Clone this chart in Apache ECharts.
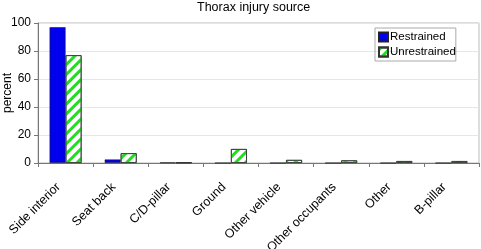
<!DOCTYPE html>
<html>
<head>
<meta charset="utf-8">
<script src="https://cdn.jsdelivr.net/npm/echarts@6/dist/echarts.min.js"></script>
<style>
  html, body { margin: 0; padding: 0; background: #fff; }
  #chart { width: 481px; height: 249px; }
</style>
</head>
<body>
<div id="chart"></div>
<script>
// data
const categories = ['Side interior', 'Seat back', 'C/D-pillar', 'Ground', 'Other vehicle', 'Other occupants', 'Other', 'B-pillar'];
const restrained = [97, 2.5, 0.4, 0, 0, 0, 0, 0];
const unrestrained = [77, 7, 0.4, 10, 2.2, 1.9, 1.4, 1.4];
const yTicks = [0, 20, 40, 60, 80, 100];

const chart = echarts.init(document.getElementById('chart'), null, { renderer: 'canvas' });

const font = 'Liberation Sans, Arial, sans-serif';

chart.setOption({
    animation: false,
    textStyle: { fontFamily: font },
    title: {
        text: 'Thorax injury source',
        left: 192,
        top: -4,
        textStyle: { fontSize: 12.5, fontWeight: 'normal', color: '#000', fontFamily: font }
    },
    legend: {
        orient: 'vertical',
        left: 375,
        top: 28,
        padding: [3, 0, 3, 3],
        itemGap: 3,
        itemWidth: 9,
        itemHeight: 9,
        icon: 'rect',
        borderColor: '#aaa',
        borderWidth: 1,
        textStyle: { fontSize: 11.5, color: '#000', padding: [0, 0, 0, -3] },
        data: ['Restrained', 'Unrestrained']
    },
    grid: {
        left: 38,
        right: 2,
        top: 23,
        bottom: 86,
        outerBoundsMode: 'none',
        containLabel: false,
        show: true,
        borderColor: '#bbb',
        borderWidth: 1
    },
    xAxis: {
        type: 'category',
        data: categories,
        axisLine: { lineStyle: { color: '#777' } },
        axisTick: { show: true, length: 4, lineStyle: { color: '#777' } },
        axisLabel: { rotate: 45, fontSize: 12.5, color: '#000', margin: 15, padding: [0, 10, 0, 0], interval: 0 }
    },
    yAxis: {
        type: 'value',
        min: yTicks[0],
        max: yTicks[yTicks.length - 1],
        interval: 20,
        name: 'percent',
        nameLocation: 'middle',
        nameGap: 24,
        nameMoveOverlap: false,
        nameTextStyle: { fontSize: 12, color: '#000' },
        axisLine: { show: true, lineStyle: { color: '#777' } },
        axisTick: { show: true, length: 4, lineStyle: { color: '#777' } },
        axisLabel: { fontSize: 12, color: '#000', margin: 7 },
        splitLine: { lineStyle: { color: '#e6e6e6' } }
    },
    series: [
        {
            name: 'Restrained',
            type: 'bar',
            data: restrained,
            barGap: '0%',
            barCategoryGap: '42%',
            itemStyle: { color: '#0000ee', borderColor: '#222', borderWidth: 0.6 }
        },
        {
            name: 'Unrestrained',
            type: 'bar',
            data: unrestrained,
            itemStyle: {
                color: '#ffffff',
                borderColor: '#333',
                borderWidth: 0.8,
                decal: {
                    symbol: 'rect',
                    symbolSize: 1,
                    color: '#22dd22',
                    dashArrayX: [1, 0],
                    dashArrayY: [3, 4],
                    rotation: -Math.PI / 4
                }
            }
        }
    ]
});
</script>
</body>
</html>
